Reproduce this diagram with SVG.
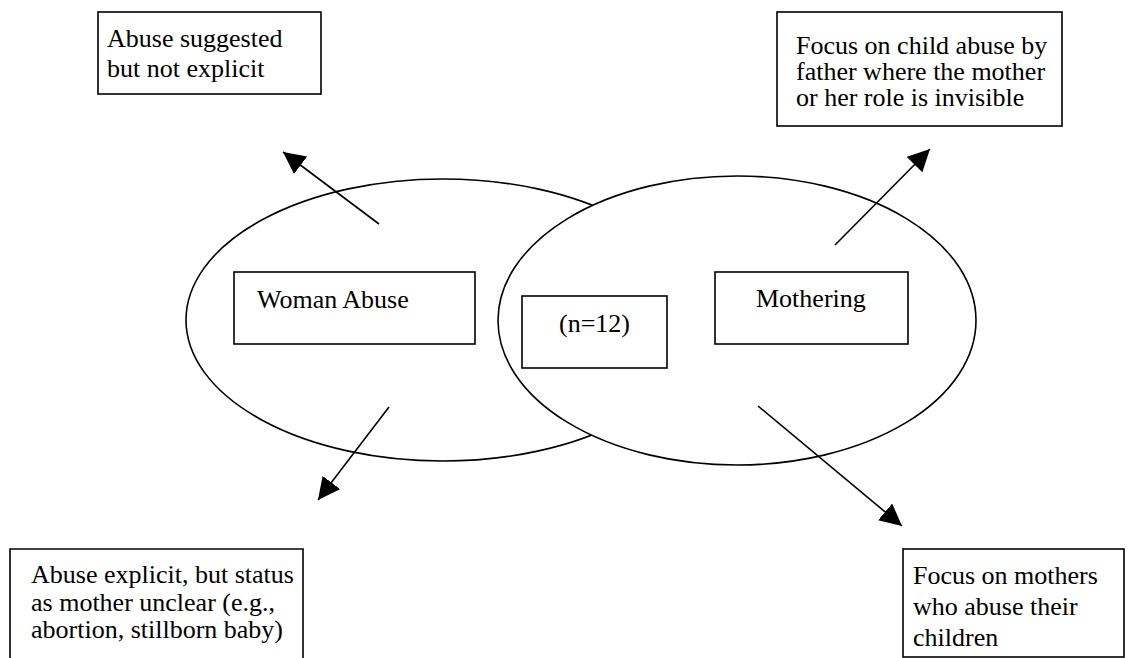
<svg xmlns="http://www.w3.org/2000/svg" width="1132" height="658" viewBox="0 0 1132 658">
<style>
.bg{fill:#fff}
.ell{fill:#fff;stroke:#000;stroke-width:1.6}
.box{fill:#fff;stroke:#000;stroke-width:1.6}
.t{font-family:"Liberation Serif","Times New Roman",serif;font-size:26px;fill:#000}
.arr{stroke:#000;stroke-width:1.6;fill:none;marker-end:url(#ah)}
</style>
<defs>
<marker id="ah" markerUnits="userSpaceOnUse" markerWidth="26" markerHeight="24" refX="22" refY="11" orient="auto">
<path d="M0,0 L22,11 L0,22 Z" fill="#000"/>
</marker>
</defs>
<rect class="bg" x="0" y="0" width="1132" height="658"/>
<g id="ellipse-woman-abuse"><ellipse class="ell" cx="443" cy="320" rx="257" ry="141"/></g>
<g id="ellipse-mothering"><ellipse class="ell" cx="737" cy="320.5" rx="239" ry="144.5"/></g>
<g id="node-woman-abuse">
<rect class="box" x="234" y="272" width="241" height="72"/>
<text class="t" x="257" y="308">Woman Abuse</text>
</g>
<g id="node-n12">
<rect class="box" x="522" y="296" width="145" height="72"/>
<text class="t" x="559" y="332">(n=12)</text>
</g>
<g id="node-mothering">
<rect class="box" x="715" y="272" width="193" height="72"/>
<text class="t" x="756" y="307">Mothering</text>
</g>
<g id="node-suggested">
<rect class="box" x="98" y="12" width="223" height="82"/>
<text class="t" x="107" y="47">Abuse suggested</text>
<text class="t" x="107" y="77">but not explicit</text>
</g>
<g id="node-father">
<rect class="box" x="777" y="12" width="285" height="114"/>
<text class="t" x="796" y="54">Focus on child abuse by</text>
<text class="t" x="796" y="80">father where the mother</text>
<text class="t" x="796" y="106">or her role is invisible</text>
</g>
<g id="node-explicit">
<path class="box" d="M10,670 L10,549 L303,549 L303,670"/>
<text class="t" x="31" y="583">Abuse explicit, but status</text>
<text class="t" x="31" y="611">as mother unclear (e.g.,</text>
<text class="t" x="31" y="638">abortion, stillborn baby)</text>
</g>
<g id="node-mothers-abuse">
<rect class="box" x="903" y="549" width="221" height="108"/>
<text class="t" x="913" y="584">Focus on mothers</text>
<text class="t" x="913" y="615">who abuse their</text>
<text class="t" x="913" y="646">children</text>
</g>
<g id="connectors">
<line class="arr" x1="379" y1="224" x2="283" y2="152"/>
<line class="arr" x1="835" y1="245" x2="930" y2="149"/>
<line class="arr" x1="389" y1="407" x2="318" y2="500"/>
<line class="arr" x1="758" y1="406" x2="902" y2="526"/>
</g>
</svg>
